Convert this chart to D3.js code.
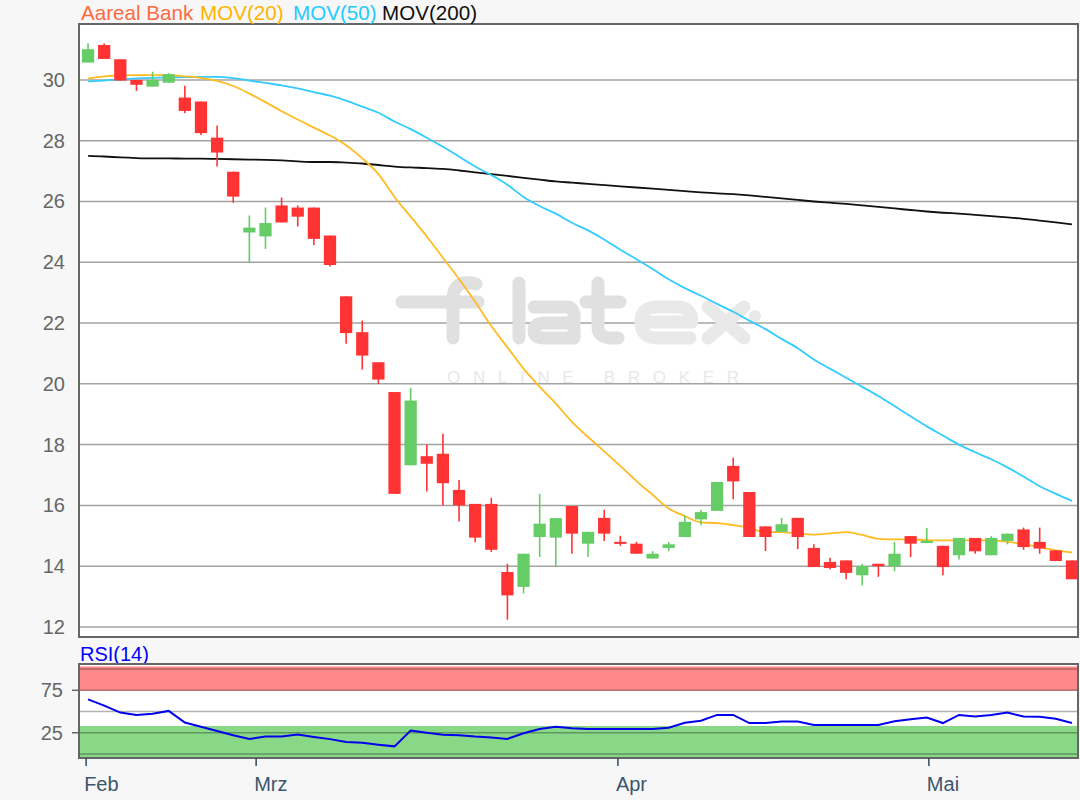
<!DOCTYPE html>
<html>
<head>
<meta charset="utf-8">
<script src="https://cdn.jsdelivr.net/npm/d3@7/dist/d3.min.js"></script>
<style>
  body { margin: 0; background: #f7f7f7; }
  svg { display: block; font-family: "Liberation Sans", Arial, sans-serif; }
</style>
</head>
<body>
<div id="chart"></div>
<script>
// Daily candles, Feb - Mai (trading-day index)
const opens  = [30.57,31.15,30.68,30.00,29.78,29.91,29.42,29.29,28.10,26.98,24.98,24.85,25.87,25.80,25.80,24.88,22.88,21.70,20.71,19.73,17.32,17.62,17.70,16.51,16.05,16.05,13.81,13.32,14.96,14.94,15.98,14.74,15.59,14.80,14.74,14.25,14.60,14.96,15.54,15.82,17.30,16.44,15.31,15.13,15.59,14.60,14.14,14.19,13.70,14.08,14.00,14.99,14.76,14.67,14.36,14.93,14.36,14.83,15.21,14.80,14.52,14.19];
const highs  = [31.21,31.20,30.68,30.00,30.27,30.22,29.81,29.29,28.50,26.98,25.54,25.80,26.13,25.87,25.80,24.88,22.88,22.08,20.71,19.73,19.87,18.00,18.36,16.84,16.05,16.25,14.08,14.41,16.38,15.58,15.98,15.13,15.86,15.00,14.80,14.49,14.80,15.67,15.86,16.77,17.57,16.44,15.31,15.59,15.59,14.72,14.28,14.19,14.08,14.08,14.80,14.99,15.26,14.67,14.93,14.93,14.99,15.07,15.27,15.27,14.52,14.19];
const lows   = [30.57,30.69,29.98,29.64,29.78,29.91,28.90,28.19,27.15,25.96,24.00,24.44,25.31,25.18,24.57,23.86,21.32,20.47,20.00,16.38,17.32,16.46,16.00,15.47,14.79,14.47,12.24,13.10,14.30,14.00,14.41,14.30,14.83,14.67,14.41,14.25,14.49,14.96,15.35,15.82,16.20,14.96,14.50,15.13,14.56,13.97,13.90,13.57,13.37,13.65,13.83,14.30,14.76,13.70,14.22,14.41,14.36,14.72,14.54,14.41,14.17,13.57];
const closes = [31.01,30.69,29.98,29.84,30.00,30.19,28.98,28.25,27.61,26.16,25.14,25.29,25.31,25.50,24.77,23.91,21.67,20.93,20.14,16.38,19.45,17.37,16.73,16.00,14.94,14.54,13.04,14.41,15.40,15.58,15.07,15.13,15.07,14.74,14.41,14.41,14.72,15.46,15.78,16.77,16.79,14.96,14.96,15.38,14.96,13.97,13.94,13.78,14.00,14.00,14.41,14.74,14.83,13.97,14.93,14.49,14.93,15.07,14.63,14.58,14.17,13.57];

const mov20  = [30.05,30.12,30.15,30.16,30.16,30.16,30.12,30.07,29.97,29.80,29.55,29.27,28.97,28.70,28.43,28.17,27.85,27.42,26.90,26.15,25.50,24.85,24.15,23.45,22.70,21.90,21.20,20.50,19.90,19.35,18.75,18.25,17.78,17.30,16.80,16.35,15.90,15.65,15.44,15.42,15.35,15.26,15.12,15.12,15.07,15.04,15.08,15.12,15.03,14.90,14.88,14.88,14.86,14.85,14.85,14.85,14.85,14.80,14.72,14.63,14.52,14.45];
const mov50  = [29.95,29.98,30.02,30.05,30.07,30.08,30.09,30.10,30.10,30.06,29.98,29.90,29.82,29.72,29.60,29.48,29.32,29.12,28.92,28.63,28.38,28.10,27.80,27.48,27.15,26.87,26.55,26.15,25.85,25.60,25.30,25.05,24.75,24.41,24.10,23.78,23.44,23.15,22.90,22.63,22.37,22.08,21.80,21.48,21.17,20.80,20.50,20.20,19.90,19.60,19.27,18.93,18.60,18.30,18.00,17.75,17.52,17.25,16.95,16.63,16.38,16.15];
const mov200 = [27.50,27.48,27.45,27.43,27.42,27.42,27.41,27.41,27.40,27.39,27.38,27.37,27.35,27.32,27.30,27.30,27.28,27.25,27.20,27.15,27.12,27.10,27.07,27.02,26.96,26.90,26.84,26.78,26.72,26.66,26.62,26.58,26.54,26.50,26.46,26.42,26.38,26.34,26.30,26.27,26.24,26.20,26.15,26.10,26.05,26.00,25.96,25.92,25.87,25.82,25.77,25.72,25.67,25.63,25.60,25.56,25.52,25.48,25.43,25.37,25.31,25.25];

const rsi14  = [64.3,57.0,48.7,46.0,47.5,50.7,37.1,32.0,27.0,22.0,17.8,20.5,20.5,22.8,20.0,17.5,14.0,13.2,11.0,9.0,27.5,25.0,22.6,22.0,20.5,19.5,17.8,24.5,29.5,32.1,30.2,29.5,29.5,29.5,29.5,29.5,31.0,36.8,39.1,46.0,46.0,36.4,36.4,38.3,38.3,34.1,34.1,34.1,34.1,34.1,38.5,40.8,42.9,36.4,46.0,44.1,46.0,48.7,44.1,43.7,41.5,36.4];

const priceTicks = [12, 14, 16, 18, 20, 22, 24, 26, 28, 30];
const rsiTicks = [75, 25];
const rsiGrid = [0, 25, 50, 75, 100];
const monthLabels = ["Feb", "Mrz", "Apr", "Mai"];
const monthPos = [-0.12, 10.42, 32.85, 52.13]; // position of month start on the trading-day axis

const width = 1080, height = 800;
const plot = {left: 79, right: 1078, top: 24, bottom: 637};
const rsiBox = {top: 664, bottom: 758};

var svg = d3.select("#chart").append("svg")
	.attr("width", width)
	.attr("height", height);

svg.append("rect").attr("width", width).attr("height", height).attr("fill", "#f7f7f7");

var x = d3.scaleLinear()
	.domain([-0.5, closes.length - 0.5])
	.range([80, 1080]);

var y = d3.scaleLinear()
	.domain([11.67, 31.84])
	.range([plot.bottom, plot.top]);

var yRsi = d3.scaleLinear()
	.domain([-4.7, 105.9])
	.range([rsiBox.bottom, rsiBox.top]);

// clip paths
var defs = svg.append("defs");
defs.append("clipPath").attr("id", "clipMain").append("rect")
	.attr("x", plot.left).attr("y", plot.top)
	.attr("width", plot.right - plot.left).attr("height", plot.bottom - plot.top);
defs.append("clipPath").attr("id", "clipRsi").append("rect")
	.attr("x", plot.left).attr("y", rsiBox.top)
	.attr("width", plot.right - plot.left).attr("height", rsiBox.bottom - rsiBox.top);

// ---- Main panel
svg.append("rect")
	.attr("x", plot.left).attr("y", plot.top)
	.attr("width", plot.right - plot.left).attr("height", plot.bottom - plot.top)
	.attr("fill", "#fff");

var main = svg.append("g").attr("clip-path", "url(#clipMain)");

main.selectAll(".grid")
	.data(priceTicks)
	.enter().append("line")
	.attr("class", "grid")
	.attr("x1", plot.left).attr("x2", plot.right)
	.attr("y1", function(d) { return y(d) }).attr("y2", function(d) { return y(d) })
	.attr("stroke", "#a3a3a3")
	.attr("stroke-width", 1.5);

// watermark
var wm = main.append("g")
	.attr("fill", "none")
	.attr("stroke-linecap", "round")
	.attr("stroke-linejoin", "round")
	.attr("stroke-width", 13);
wm.append("path").attr("stroke", "#e0e0e0")
	.attr("d", "M402,302 L478,302 M476,284 Q453,278 453,300 L453,338 M519,283 L519,338 " +
		"M534,307 L566,307 Q574,307 574,316 L574,338 M574,323 L545,323 Q534,323 534,331 Q534,338 545,338 L574,338 " +
		"M586,302 L620,302 M598,283 L598,327 Q598,338 612,338 L618,338");
wm.append("path").attr("stroke", "#e9e9e9")
	.attr("d", "M641,322 L692,322 Q692,307 677,307 L657,307 Q641,307 641,322 Q641,338 657,338 L690,338 " +
		"M708,307 L744,338 M744,307 L708,338");
wm.append("circle").attr("cx", 755).attr("cy", 316).attr("r", 6).attr("fill", "#e9e9e9").attr("stroke", "none");
main.append("text")
	.attr("x", 447).attr("y", 383)
	.attr("textLength", 292).attr("lengthAdjust", "spacing")
	.attr("font-size", 17)
	.attr("fill", "#e8e8e8")
	.text("ONLINE BROKER");

// moving averages
function maLine(values, color) {
	var line = d3.line()
		.x(function(d, i) { return x(i) })
		.y(function(d) { return y(d) })
		.curve(d3.curveMonotoneX);
	main.append("path")
		.datum(values)
		.attr("fill", "none")
		.attr("stroke", color)
		.attr("stroke-width", 1.8)
		.attr("d", line);
}
maLine(mov200, "#111111");
maLine(mov50, "#33ccff");
maLine(mov20, "#ffbb22");

// candles
var candles = closes.map(function(c, i) {
	return {i: i, o: opens[i], h: highs[i], l: lows[i], c: c};
});
var bw = (x(1) - x(0)) * 0.76;

var cg = main.selectAll(".candle")
	.data(candles)
	.enter().append("g")
	.attr("class", "candle")
	.attr("fill", function(d) { return d.c >= d.o ? "#66cc66" : "#ff3333" })
	.attr("stroke", function(d) { return d.c >= d.o ? "#66cc66" : "#ff3333" });

cg.append("line")
	.attr("x1", function(d) { return x(d.i) }).attr("x2", function(d) { return x(d.i) })
	.attr("y1", function(d) { return y(d.h) }).attr("y2", function(d) { return y(d.l) })
	.attr("stroke-width", 1.6);

cg.append("rect")
	.attr("x", function(d) { return x(d.i) - bw / 2 })
	.attr("width", bw)
	.attr("y", function(d) { return y(Math.max(d.o, d.c)) })
	.attr("height", function(d) { return Math.max(2, Math.abs(y(d.o) - y(d.c))) })
	.attr("stroke", "none");

svg.append("rect")
	.attr("x", plot.left).attr("y", plot.top)
	.attr("width", plot.right - plot.left).attr("height", plot.bottom - plot.top)
	.attr("fill", "none").attr("stroke", "#666").attr("stroke-width", 2);

svg.selectAll(".ylabel")
	.data(priceTicks)
	.enter().append("text")
	.attr("class", "ylabel")
	.attr("x", 65).attr("y", function(d) { return y(d) + 7 })
	.attr("text-anchor", "end")
	.attr("font-size", 20)
	.attr("fill", "#666")
	.text(function(d) { return d });

// title / legend
var title = svg.append("text").attr("y", 20).attr("font-size", 20.6);
title.append("tspan").attr("x", 81).attr("fill", "#ff6a40").text("Aareal Bank");
title.append("tspan").attr("x", 200).attr("fill", "#ffb400").text("MOV(20)");
title.append("tspan").attr("x", 293).attr("fill", "#22ccff").text("MOV(50)");
title.append("tspan").attr("x", 382).attr("fill", "#111").text("MOV(200)");

// ---- RSI panel
svg.append("text")
	.attr("x", 80).attr("y", 661)
	.attr("font-size", 20)
	.attr("fill", "#0000ff")
	.text("RSI(14)");

svg.append("rect")
	.attr("x", plot.left).attr("y", rsiBox.top)
	.attr("width", plot.right - plot.left).attr("height", rsiBox.bottom - rsiBox.top)
	.attr("fill", "#fff");

var rp = svg.append("g").attr("clip-path", "url(#clipRsi)");

rp.append("rect")
	.attr("x", plot.left).attr("width", plot.right - plot.left)
	.attr("y", yRsi(103)).attr("height", yRsi(74.5) - yRsi(103))
	.attr("fill", "#ff8888");
rp.append("rect")
	.attr("x", plot.left).attr("width", plot.right - plot.left)
	.attr("y", yRsi(33)).attr("height", yRsi(-4) - yRsi(33))
	.attr("fill", "#88d888");

rp.selectAll(".rgrid")
	.data(rsiGrid)
	.enter().append("line")
	.attr("class", "rgrid")
	.attr("x1", plot.left).attr("x2", plot.right)
	.attr("y1", function(d) { return yRsi(d) }).attr("y2", function(d) { return yRsi(d) })
	.attr("stroke", "rgba(0,0,0,0.3)")
	.attr("stroke-width", 1.5);

rp.append("path")
	.datum(rsi14)
	.attr("fill", "none")
	.attr("stroke", "#0000ee")
	.attr("stroke-width", 2)
	.attr("d", d3.line()
		.x(function(d, i) { return x(i) })
		.y(function(d) { return yRsi(d) }));

svg.append("rect")
	.attr("x", plot.left).attr("y", rsiBox.top)
	.attr("width", plot.right - plot.left).attr("height", rsiBox.bottom - rsiBox.top)
	.attr("fill", "none").attr("stroke", "#666").attr("stroke-width", 2);

svg.selectAll(".rtick")
	.data(rsiTicks)
	.enter().append("line")
	.attr("class", "rtick")
	.attr("x1", 72).attr("x2", 78)
	.attr("y1", function(d) { return yRsi(d) }).attr("y2", function(d) { return yRsi(d) })
	.attr("stroke", "#666").attr("stroke-width", 1.5);

svg.selectAll(".rlabel")
	.data(rsiTicks)
	.enter().append("text")
	.attr("class", "rlabel")
	.attr("x", 63).attr("y", function(d) { return yRsi(d) + 7 })
	.attr("text-anchor", "end")
	.attr("font-size", 20)
	.attr("fill", "#666")
	.text(function(d) { return d });

// month axis
var months = monthLabels.map(function(m, i) { return {label: m, pos: monthPos[i]} });

svg.selectAll(".mtick")
	.data(months)
	.enter().append("line")
	.attr("class", "mtick")
	.attr("x1", function(d) { return x(d.pos) }).attr("x2", function(d) { return x(d.pos) })
	.attr("y1", rsiBox.bottom).attr("y2", rsiBox.bottom + 8)
	.attr("stroke", "#2f4a62").attr("stroke-width", 1.5);

svg.selectAll(".mlabel")
	.data(months)
	.enter().append("text")
	.attr("class", "mlabel")
	.attr("x", function(d) { return x(d.pos) - 2 })
	.attr("y", 791)
	.attr("font-size", 20)
	.attr("fill", "#3b566e")
	.text(function(d) { return d.label });
</script>
</body>
</html>
